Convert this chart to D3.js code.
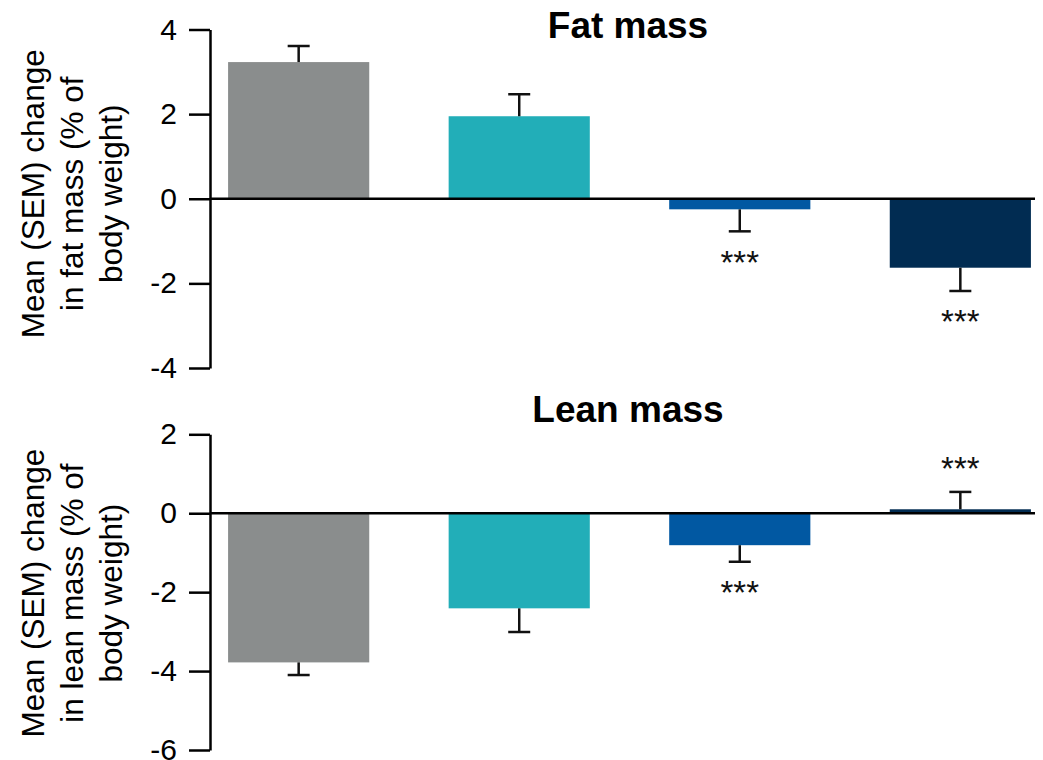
<!DOCTYPE html>
<html>
<head>
<meta charset="utf-8">
<script src="https://cdn.jsdelivr.net/npm/d3@7"></script>
<style>
  html, body { margin: 0; padding: 0; background: #fff; }
  svg { display: block; font-family: "Liberation Sans", Arial, Helvetica, sans-serif; }
</style>
</head>
<body>
<svg id="chart" width="1043" height="760"></svg>
<script>
// ---- Data ----
const groups = ["Group A", "Group B", "Group C", "Group D"];
const fatMean = [3.23, 1.95, -0.25, -1.63];
const fatSEM = [0.38, 0.52, 0.52, 0.55];
const fatSig = ["", "", "***", "***"];
const leanMean = [-3.78, -2.41, -0.81, 0.10];
const leanSEM = [0.32, 0.60, 0.42, 0.44];
const leanSig = ["", "", "***", "***"];
const fatTicks = [-4, -2, 0, 2, 4];
const leanTicks = [-6, -4, -2, 0, 2];
const panelTitles = ["Fat mass", "Lean mass"];
const yTitles = [
  ["Mean (SEM) change", "in fat mass (% of", "body weight)"],
  ["Mean (SEM) change", "in lean mass (% of", "body weight)"]
];
const colors = ["#8a8d8d", "#22aeb8", "#0158a2", "#012c52"];

// ---- Layout ----
const svg = d3.select("#chart");
const axisX = 210;
const x = d3.scaleBand().domain(groups).range([axisX, 1049]).paddingInner(0.36).paddingOuter(0.082);
const sw = 2.5;

const panels = [
  { mean: fatMean, sem: fatSEM, sig: fatSig, ticks: fatTicks, domain: [-4, 4], range: [368, 29.5], title: panelTitles[0], titleY: 38, ylab: yTitles[0], labShift: -5 },
  { mean: leanMean, sem: leanSEM, sig: leanSig, ticks: leanTicks, domain: [-6, 2], range: [750, 434.3], title: panelTitles[1], titleY: 422, ylab: yTitles[1], labShift: 1 }
];

panels.forEach(p => {
  const y = d3.scaleLinear().domain(p.domain).range(p.range);
  const g = svg.append("g");

  // bars
  g.selectAll("rect.bar").data(groups).join("rect")
    .attr("x", d => x(d))
    .attr("width", x.bandwidth())
    .attr("y", (d, i) => Math.min(y(p.mean[i]), y(0)))
    .attr("height", (d, i) => Math.abs(y(p.mean[i]) - y(0)))
    .attr("fill", (d, i) => colors[i]);

  // error bars
  const capW = 22;
  groups.forEach((d, i) => {
    const cx = x(d) + x.bandwidth() / 2;
    const m = p.mean[i];
    const end = m >= 0 ? m + p.sem[i] : m - p.sem[i];
    g.append("line").attr("x1", cx).attr("x2", cx).attr("y1", y(m)).attr("y2", y(end))
      .attr("stroke", "#111").attr("stroke-width", sw);
    g.append("line").attr("x1", cx - capW / 2).attr("x2", cx + capW / 2).attr("y1", y(end)).attr("y2", y(end))
      .attr("stroke", "#111").attr("stroke-width", sw);
    if (p.sig[i]) {
      const sy = m >= 0 ? y(end) - 32 : y(end) + 22;
      g.append("text").attr("x", cx).attr("y", sy).attr("dy", "0.62em")
        .attr("text-anchor", "middle").attr("font-size", 33).attr("fill", "#111").text(p.sig[i]);
    }
  });

  // zero line
  g.append("line").attr("x1", axisX).attr("x2", 1035).attr("y1", y(0)).attr("y2", y(0))
    .attr("stroke", "#000").attr("stroke-width", sw);

  // y axis
  const ax = g.append("g").attr("transform", `translate(${axisX},0)`)
    .call(d3.axisLeft(y).tickValues(p.ticks).tickSize(21).tickSizeOuter(0).tickPadding(12).tickFormat(d3.format("d")));
  ax.select(".domain").attr("stroke", "#000").attr("stroke-width", sw);
  ax.selectAll(".tick line").attr("stroke", "#000").attr("stroke-width", sw);
  ax.selectAll(".tick text").attr("font-size", 30).attr("fill", "#000")
    .attr("font-family", "'Liberation Sans', Arial, sans-serif")
    .text(d => d < 0 ? "-" + Math.abs(d) : d);

  // panel title
  g.append("text").attr("x", 628).attr("y", p.titleY).attr("text-anchor", "middle")
    .attr("font-size", 37).attr("font-weight", "bold").attr("fill", "#000").text(p.title);

  // y title
  const cy = (p.range[0] + p.range[1]) / 2 + p.labShift;
  const yt = g.append("text").attr("transform", `translate(0,${cy}) rotate(-90)`)
    .attr("text-anchor", "middle").attr("font-size", 31.5).attr("fill", "#000");
  const baselines = [44, 83, 122];
  p.ylab.forEach((line, k) => {
    yt.append("tspan").attr("x", 0).attr("y", baselines[k]).text(line);
  });
});
</script>
</body>
</html>
